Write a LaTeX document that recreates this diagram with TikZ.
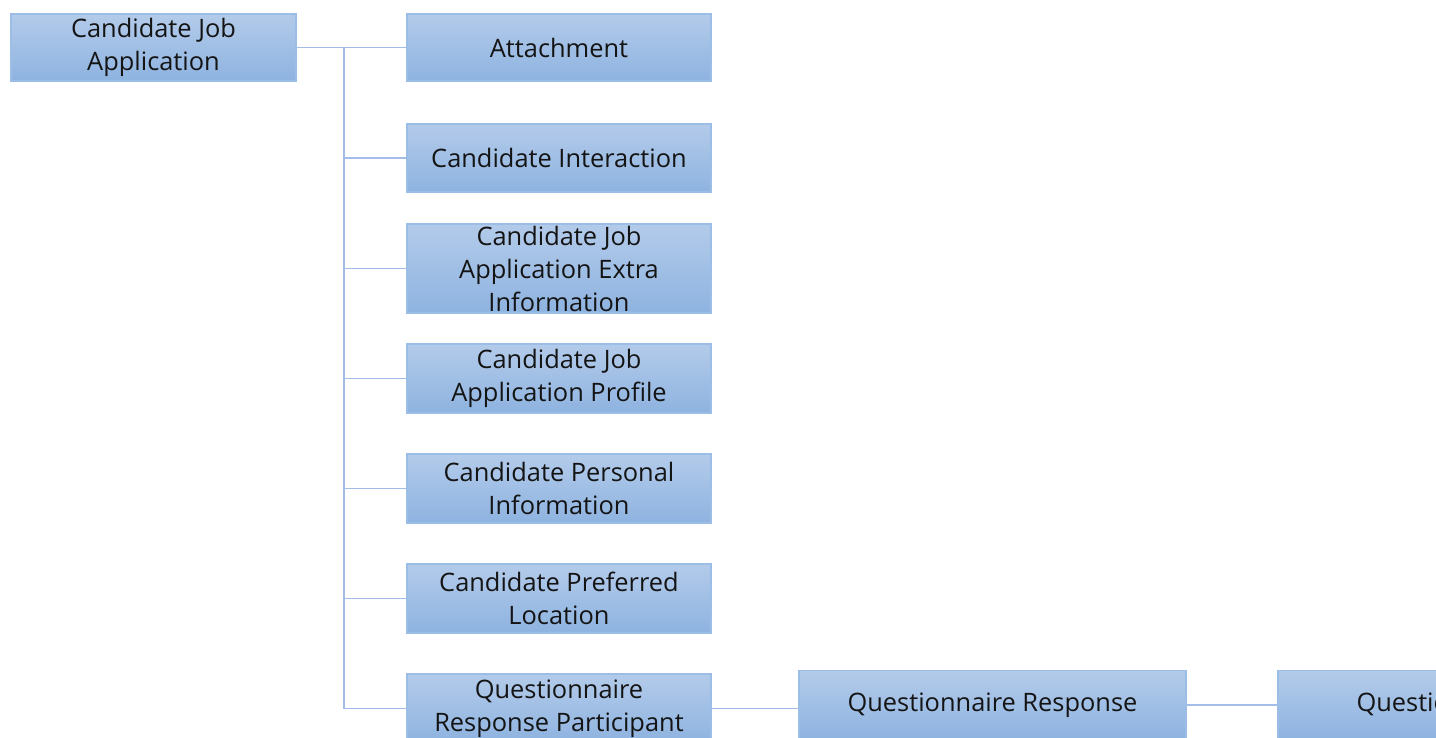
\documentclass[tikz,border=0pt]{standalone}
\usepackage{fontspec}
\setmainfont{Open Sans}
\definecolor{boxtop}{HTML}{B3CBEA}
\definecolor{boxbot}{HTML}{8EB3E0}
\definecolor{boxedge}{HTML}{9CBDE6}
\definecolor{linkc}{HTML}{A3BDE8}
\definecolor{txt}{HTML}{141414}
\begin{document}
\begin{tikzpicture}[x=0.5pt,y=-0.5pt,
  ebox/.style={draw=boxedge, line width=0.8pt, top color=boxtop, bottom color=boxbot,
    text=txt, align=center, inner sep=0pt, font=\fontsize{12.7}{16.5}\selectfont},
  link/.style={draw=linkc, line width=0.9pt}]
\clip (0,0) rectangle (1436,738);
\useasboundingbox (0,0) rectangle (1436,738);
\fill[white] (0,0) rectangle (1436,738);
\node[ebox, minimum width=142.5pt, minimum height=33.5pt] (root) at (153.5,47.5) {Candidate Job\\Application};
\node[ebox, minimum width=152pt, minimum height=33.5pt] (att) at (559,47.5) {Attachment};
\node[ebox, minimum width=152pt, minimum height=34pt] (ci) at (559,158) {Candidate Interaction};
\node[ebox, minimum width=152pt, minimum height=44.5pt] (cjae) at (559,268.5) {Candidate Job\\Application Extra\\Information};
\node[ebox, minimum width=152pt, minimum height=34.5pt] (cjap) at (559,378.5) {Candidate Job\\Application Profile};
\node[ebox, minimum width=152pt, minimum height=34.5pt] (cpi) at (559,488.5) {Candidate Personal\\Information};
\node[ebox, minimum width=152pt, minimum height=34.5pt] (cpl) at (559,598.5) {Candidate Preferred\\Location};
\node[ebox, minimum width=152pt, minimum height=34.5pt] (qrp) at (559,708.5) {Questionnaire\\Response Participant};
\node[ebox, minimum width=193.5pt, minimum height=34.5pt] (qr) at (992.5,705) {Questionnaire Response};
\node[ebox, minimum width=193.5pt, minimum height=34.5pt, anchor=west] (qq) at (1277,705) {Question Response};
\coordinate (trunk) at (344,47.5);
\draw[link] (root.east) -- (att.west);
\draw[link] (trunk) |- (qrp.west);
\foreach \n in {ci,cjae,cjap,cpi,cpl} \draw[link] (trunk|-\n.west) -- (\n.west);
\draw[link] (qrp.east) -- (qrp.east-|qr.west);
\draw[link] (qr.east) -- (qq.west);
\end{tikzpicture}
\end{document}
